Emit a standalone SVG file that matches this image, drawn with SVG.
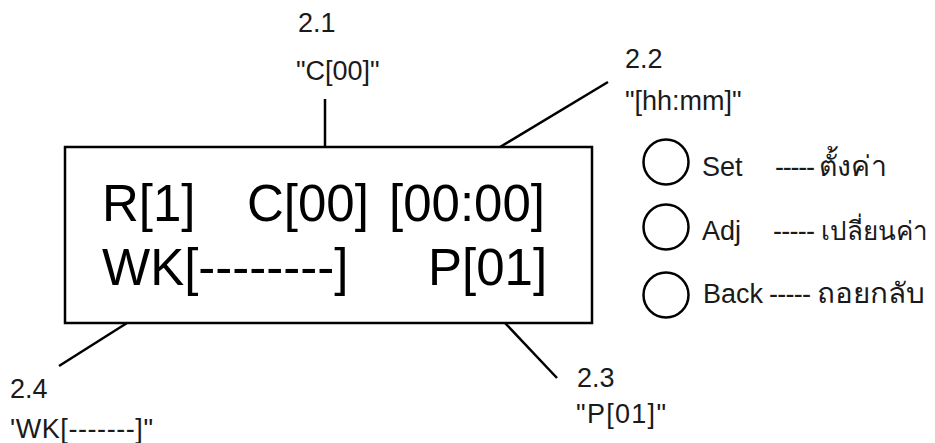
<svg xmlns="http://www.w3.org/2000/svg" width="935" height="443" viewBox="0 0 935 443">
<style>
  .t { font-family: "Liberation Sans", Arial, "Noto Sans", "DejaVu Sans", sans-serif; fill: #1a1a1a; }
  .lbl { font-size: 27px; }
  .th { font-size: 28px; }
  .big { font-size: 51px; fill: #000; }
  .ln { stroke: #000; stroke-width: 2.5; fill: none; }
  .box { stroke: #000; stroke-width: 2.5; fill: #fff; }
  .btn { stroke: #000; stroke-width: 2.5; fill: #fff; }
</style>
<rect width="935" height="443" fill="#fff"/>
<g id="connectors">
  <line class="ln" x1="325" y1="147" x2="325" y2="99"/>
  <line class="ln" x1="500" y1="147" x2="608" y2="82"/>
  <line class="ln" x1="505" y1="323" x2="557" y2="378"/>
  <line class="ln" x1="127" y1="323" x2="59" y2="366"/>
</g>
<g id="display">
  <rect class="box" x="65" y="147" width="527" height="176"/>
  <text class="t big" x="102" y="221">R[1]</text>
  <text class="t big" x="247" y="221">C[00]</text>
  <text class="t big" x="389" y="221">[00:00]</text>
  <text class="t big" x="102" y="285">WK[--------]</text>
  <text class="t big" x="428" y="285">P[01]</text>
</g>
<g id="label-2-1">
  <text class="t lbl" x="298" y="32">2.1</text>
  <text class="t lbl" x="296" y="80">"C[00]"</text>
</g>
<g id="label-2-2">
  <text class="t lbl" x="625" y="68">2.2</text>
  <text class="t lbl" x="625" y="110">"[hh:mm]"</text>
</g>
<g id="label-2-3">
  <text class="t lbl" x="577" y="387">2.3</text>
  <text class="t lbl" x="576" y="423" textLength="90">"P[01]"</text>
</g>
<g id="label-2-4">
  <text class="t lbl" x="10" y="398">2.4</text>
  <text class="t lbl" x="10" y="438" textLength="143">'WK[-------]"</text>
</g>
<g id="btn-set">
  <circle class="btn" cx="666" cy="162" r="22.5"/>
  <text class="t lbl" x="702" y="176">Set</text>
  <text class="t lbl" x="775" y="176" textLength="40">-----</text>
  <text class="t th" x="819" y="176" textLength="68" lengthAdjust="spacingAndGlyphs">ตั้งค่า</text>
</g>
<g id="btn-adj">
  <circle class="btn" cx="666" cy="227" r="22.5"/>
  <text class="t lbl" x="702" y="240">Adj</text>
  <text class="t lbl" x="773" y="240" textLength="42">-----</text>
  <text class="t" x="821" y="240" style="font-size:26px">เปลี่ยนค่า</text>
</g>
<g id="btn-back">
  <circle class="btn" cx="666" cy="295" r="22.5"/>
  <text class="t lbl" x="703" y="303">Back</text>
  <text class="t lbl" x="769" y="303" textLength="42">-----</text>
  <text class="t th" x="817" y="303" textLength="108" lengthAdjust="spacingAndGlyphs">ถอยกลับ</text>
</g>
</svg>
